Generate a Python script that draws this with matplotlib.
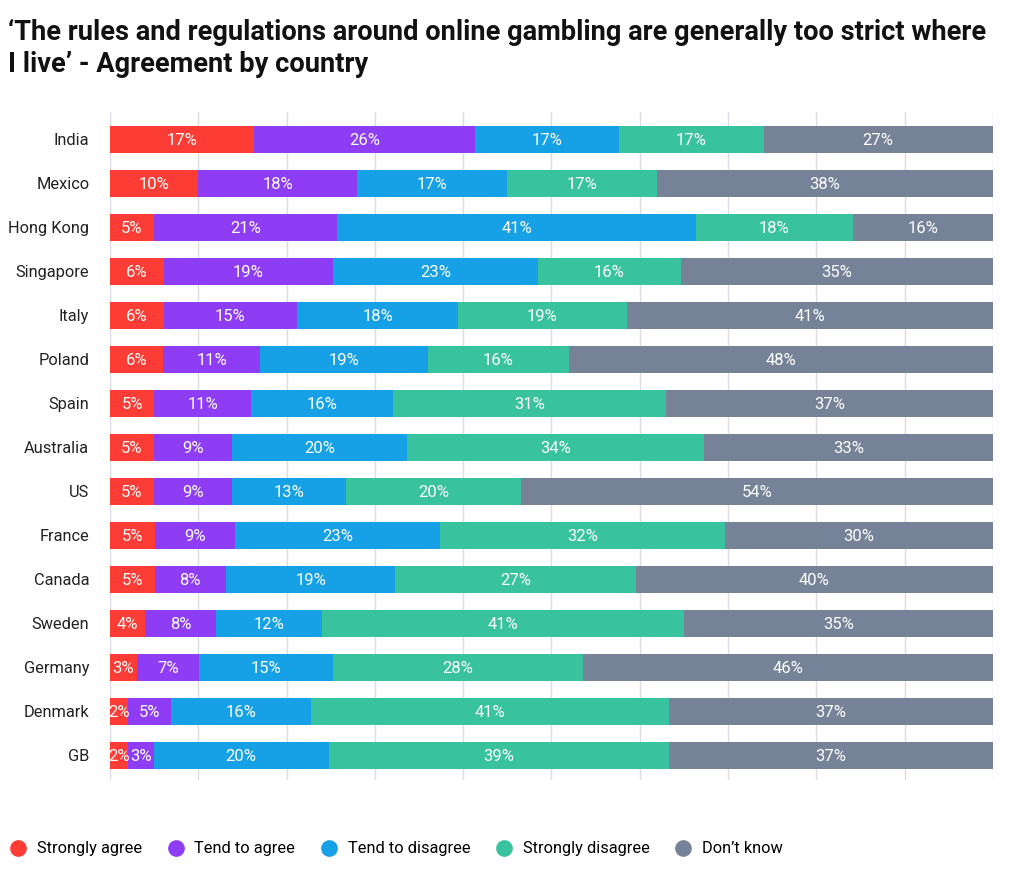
import matplotlib
matplotlib.use('Agg')
import matplotlib.pyplot as plt
from matplotlib.lines import Line2D
import numpy as np

plt.rcParams['font.family'] = ['Roboto', 'DejaVu Sans']

countries = ['India', 'Mexico', 'Hong Kong', 'Singapore', 'Italy', 'Poland', 'Spain',
             'Australia', 'US', 'France', 'Canada', 'Sweden', 'Germany', 'Denmark', 'GB']
strongly_agree = [17, 10, 5, 6, 6, 6, 5, 5, 5, 5, 5, 4, 3, 2, 2]
tend_agree = [26, 18, 21, 19, 15, 11, 11, 9, 9, 9, 8, 8, 7, 5, 3]
tend_disagree = [17, 17, 41, 23, 18, 19, 16, 20, 13, 23, 19, 12, 15, 16, 20]
strongly_disagree = [17, 17, 18, 16, 19, 16, 31, 34, 20, 32, 27, 41, 28, 41, 39]
dont_know = [27, 38, 16, 35, 41, 48, 37, 33, 54, 30, 40, 35, 46, 37, 37]

series_names = ['Strongly agree', 'Tend to agree', 'Tend to disagree', 'Strongly disagree', 'Don\u2019t know']
colors = ['#fd3d35', '#8e3df4', '#16a0e6', '#38c29e', '#768298']

data = np.array([strongly_agree, tend_agree, tend_disagree, strongly_disagree, dont_know], dtype=float)
totals = data.sum(axis=0)
widths = data / totals * 100

fig = plt.figure(figsize=(10.1, 8.76), dpi=100)
ax = fig.add_axes([0.109, 0.110, 0.874, 0.762])

y = np.arange(len(countries))
left = np.zeros(len(countries))
for k in range(5):
    ax.barh(y, widths[k], left=left, height=0.61, color=colors[k], zorder=3)
    for i in range(len(countries)):
        ax.text(left[i] + widths[k][i] / 2, y[i], f'{int(data[k][i])}%',
                ha='center', va='center_baseline', color='white', fontsize=12, zorder=4)
    left += widths[k]

ax.set_xlim(0, 100)
ax.set_ylim(14.55, -0.62)
ax.set_xticks(np.arange(0, 101, 10))
ax.set_xticklabels([])
ax.tick_params(axis='x', length=0)
ax.grid(axis='x', color='#d9dce4', linewidth=1, zorder=0)
ax.set_yticks(y)
ax.set_yticklabels(countries, fontsize=11.8, color='#222222')
ax.tick_params(axis='y', length=0, pad=15)
for s in ax.spines.values():
    s.set_visible(False)

fig.text(0.008, 0.978, '\u2018The rules and regulations around online gambling are generally too strict where\nI live\u2019 - Agreement by country',
         ha='left', va='top', fontsize=19.6, fontweight='bold', color='#111111', linespacing=1.2)

handles = [Line2D([0], [0], marker='o', linestyle='', markersize=11, markerfacecolor=c, markeredgecolor=c)
           for c in colors]
fig.legend(handles, series_names, loc='center left', bbox_to_anchor=(-0.013, 0.031), ncol=5,
           frameon=False, fontsize=11.8, handletextpad=0.15, columnspacing=1.05)

plt.savefig('out.png', dpi=100)
